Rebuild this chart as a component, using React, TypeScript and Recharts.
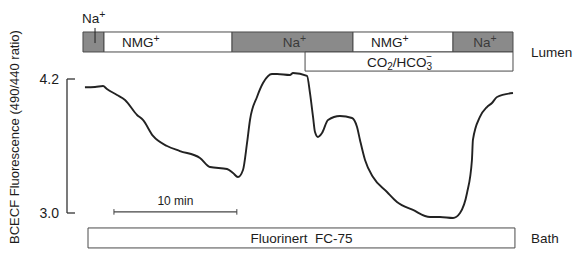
import React from 'react';
import {
  ComposedChart,
  Line,
  XAxis,
  YAxis,
  ReferenceArea,
  ReferenceLine,
} from 'recharts';

// pHi trace, time in minutes, BCECF ratio (490/440)
const TIME_MIN = [
  1.46, 2.28, 2.93, 3.25, 4.07, 4.72, 5.7, 6.18, 7.0, 8.14, 9.19, 10.82, 11.64, 13.02, 13.51,
  13.91, 14.32, 14.65, 14.89, 15.46, 15.95, 16.68, 17.09, 18.14, 18.39, 19.53, 19.77, 20.02,
  20.18, 20.42, 20.75, 21.24, 22.21, 23.19, 23.6, 23.84, 24.25, 24.9, 26.04, 26.85, 28.15,
  29.54, 30.35, 31.41, 31.98, 32.55, 32.95, 33.03, 33.6, 34.17, 34.58, 34.99, 36.29,
];
const RATIO = [
  4.126, 4.128, 4.137, 4.11, 4.057, 4.012, 3.878, 3.833, 3.69, 3.6, 3.555, 3.493, 3.412, 3.394,
  3.358, 3.322, 3.385, 3.627, 3.833, 4.039, 4.164, 4.245, 4.245, 4.236, 4.254, 4.227, 4.075,
  3.86, 3.725, 3.681, 3.716, 3.833, 3.869, 3.851, 3.77, 3.654, 3.475, 3.322, 3.188, 3.099,
  3.027, 2.964, 2.964, 2.955, 3.0, 3.179, 3.475, 3.654, 3.86, 3.949, 3.985, 4.039, 4.075,
];
const Y_TICKS = [3.0, 4.2];

// lumen perfusion protocol (minutes)
const LUMEN_START = [1.3, 3.01, 13.43, 23.27, 31.41];
const LUMEN_END = [3.01, 13.43, 23.27, 31.41, 36.29];
const LUMEN_ION = ['Na', 'NMG', 'Na', 'NMG', 'Na'];
const CO2_START = 19.37;
const CO2_END = 36.29;
const BATH_START = 1.71;
const BATH_END = 36.45;
const SCALE_START = 3.82;
const SCALE_END = 13.82;

const data = TIME_MIN.map((t, i) => ({ t, ratio: RATIO[i] }));

const FONT = '"Liberation Sans", Arial, sans-serif';
const GRAY = '#8a8a8a';
const EDGE = '#4a4a4a';
const INK = '#1c1c1c';

const IonLabel = ({ viewBox, ion, gray, right }: any) => {
  if (!viewBox) return null;
  const { x, y, width, height } = viewBox;
  const start = ion === 'NMG';
  return (
    <g>
      {ion && (
        <text
          x={start ? x + 18 : x + width / 2 + 2}
          y={y + height / 2 + 5}
          textAnchor={start ? 'start' : 'middle'}
          fontFamily={FONT}
          fontSize={13.5}
          fill={gray ? '#3a3a3a' : INK}
        >
          {ion}
          <tspan dy={-5} fontSize={10.5}>+</tspan>
        </text>
      )}
      {right && (
        <text x={x + width + 18} y={y + height + 5} fontFamily={FONT} fontSize={13.5} fill={INK}>
          {right}
        </text>
      )}
    </g>
  );
};

const Co2Label = ({ viewBox }: any) => {
  if (!viewBox) return null;
  const { x, y, width, height } = viewBox;
  return (
    <text x={x + width / 2 - 42} y={y + height / 2 + 5} fontFamily={FONT} fontSize={13.5} fill={INK}>
      CO<tspan dy={3} fontSize={10}>2</tspan>
      <tspan dy={-3}>/HCO</tspan>
      <tspan dy={3} fontSize={10}>3</tspan>
      <tspan dx={-6} dy={-10} fontSize={10}>−</tspan>
    </text>
  );
};

const BathLabel = ({ viewBox }: any) => {
  if (!viewBox) return null;
  const { x, y, width, height } = viewBox;
  return (
    <g fontFamily={FONT} fontSize={13.5} fill={INK}>
      <text x={x + width / 2} y={y + height / 2 + 5} textAnchor="middle" style={{ whiteSpace: 'pre' }}>
        {'Fluorinert  FC-75'}
      </text>
      <text x={x + width + 16} y={y + height / 2 + 5}>Bath</text>
    </g>
  );
};

const ScaleLabel = ({ viewBox }: any) => {
  if (!viewBox) return null;
  const { x, y, width } = viewBox;
  return (
    <text x={x + width / 2} y={y - 7} textAnchor="middle" fontFamily={FONT} fontSize={12} fill={INK}>
      10 min
    </text>
  );
};

const NaTickLabel = ({ viewBox }: any) => {
  if (!viewBox) return null;
  const { x, y } = viewBox;
  return (
    <text x={x - 13} y={y - 5} fontFamily={FONT} fontSize={13.5} fill={INK}>
      Na<tspan dy={-5} fontSize={10.5}>+</tspan>
    </text>
  );
};

const YTitle = () => (
  <text
    x={19}
    y={137}
    transform="rotate(-90 19 137)"
    textAnchor="middle"
    fontFamily={FONT}
    fontSize={13}
    fill={INK}
  >
    BCECF Fluorescence (490/440 ratio)
  </text>
);

export default function App() {
  return (
    <div style={{ position: 'absolute', left: 0, top: 0, background: '#fff' }}>
      <ComposedChart width={574} height={260} data={data} margin={{ top: 0, right: 40, bottom: 0, left: 0 }}>
        <XAxis dataKey="t" type="number" domain={[0, 38]} hide />
        <YAxis
          type="number"
          domain={[2.5791, 4.9075]}
          ticks={Y_TICKS}
          width={67}
          axisLine={false}
          tickLine={false}
          tickFormatter={(v: number) => v.toFixed(1)}
          tick={{ fontFamily: FONT, fontSize: 14, fill: INK }}
          label={<YTitle />}
        />

        {/* bracket axis */}
        <ReferenceLine segment={[{ x: 0, y: 3.0 }, { x: 0, y: 4.2 }]} stroke="#333" strokeWidth={1.3} ifOverflow="visible" />
        <ReferenceLine segment={[{ x: 0, y: 4.2 }, { x: 0.65, y: 4.2 }]} stroke="#333" strokeWidth={1.3} ifOverflow="visible" />
        <ReferenceLine segment={[{ x: 0, y: 3.0 }, { x: 0.65, y: 3.0 }]} stroke="#333" strokeWidth={1.3} ifOverflow="visible" />

        {/* lumen protocol */}
        {LUMEN_START.map((s, i) => (
          <ReferenceArea
            key={`lumen-${i}`}
            x1={s}
            x2={LUMEN_END[i]}
            y1={4.442}
            y2={4.621}
            fill={LUMEN_ION[i] === 'Na' ? GRAY : '#fff'}
            fillOpacity={1}
            stroke={EDGE}
            strokeWidth={1}
            ifOverflow="visible"
            label={
              <IonLabel
                ion={i === 0 ? '' : LUMEN_ION[i]}
                gray={LUMEN_ION[i] === 'Na'}
                right={i === LUMEN_START.length - 1 ? 'Lumen' : ''}
              />
            }
          />
        ))}
        <ReferenceArea
          x1={CO2_START}
          x2={CO2_END}
          y1={4.271}
          y2={4.442}
          fill="#fff"
          fillOpacity={1}
          stroke={EDGE}
          strokeWidth={1}
          ifOverflow="visible"
          label={<Co2Label />}
        />
        <ReferenceLine
          segment={[{ x: 2.28, y: 4.522 }, { x: 2.28, y: 4.657 }]}
          stroke="#222"
          strokeWidth={1}
          ifOverflow="visible"
          label={<NaTickLabel />}
        />

        {/* bath */}
        <ReferenceArea
          x1={BATH_START}
          x2={BATH_END}
          y1={2.687}
          y2={2.866}
          fill="#fff"
          fillOpacity={1}
          stroke={EDGE}
          strokeWidth={1}
          ifOverflow="visible"
          label={<BathLabel />}
        />

        {/* time scale bar */}
        <ReferenceLine
          segment={[{ x: SCALE_START, y: 3.01 }, { x: SCALE_END, y: 3.01 }]}
          stroke="#444"
          strokeWidth={1.2}
          ifOverflow="visible"
          label={<ScaleLabel />}
        />
        <ReferenceLine segment={[{ x: SCALE_START, y: 2.985 }, { x: SCALE_START, y: 3.035 }]} stroke="#444" ifOverflow="visible" />
        <ReferenceLine segment={[{ x: SCALE_END, y: 2.985 }, { x: SCALE_END, y: 3.035 }]} stroke="#444" ifOverflow="visible" />

        <Line
          type="monotone"
          dataKey="ratio"
          stroke="#222"
          strokeWidth={1.9}
          dot={false}
          isAnimationActive={false}
        />
      </ComposedChart>
    </div>
  );
}
